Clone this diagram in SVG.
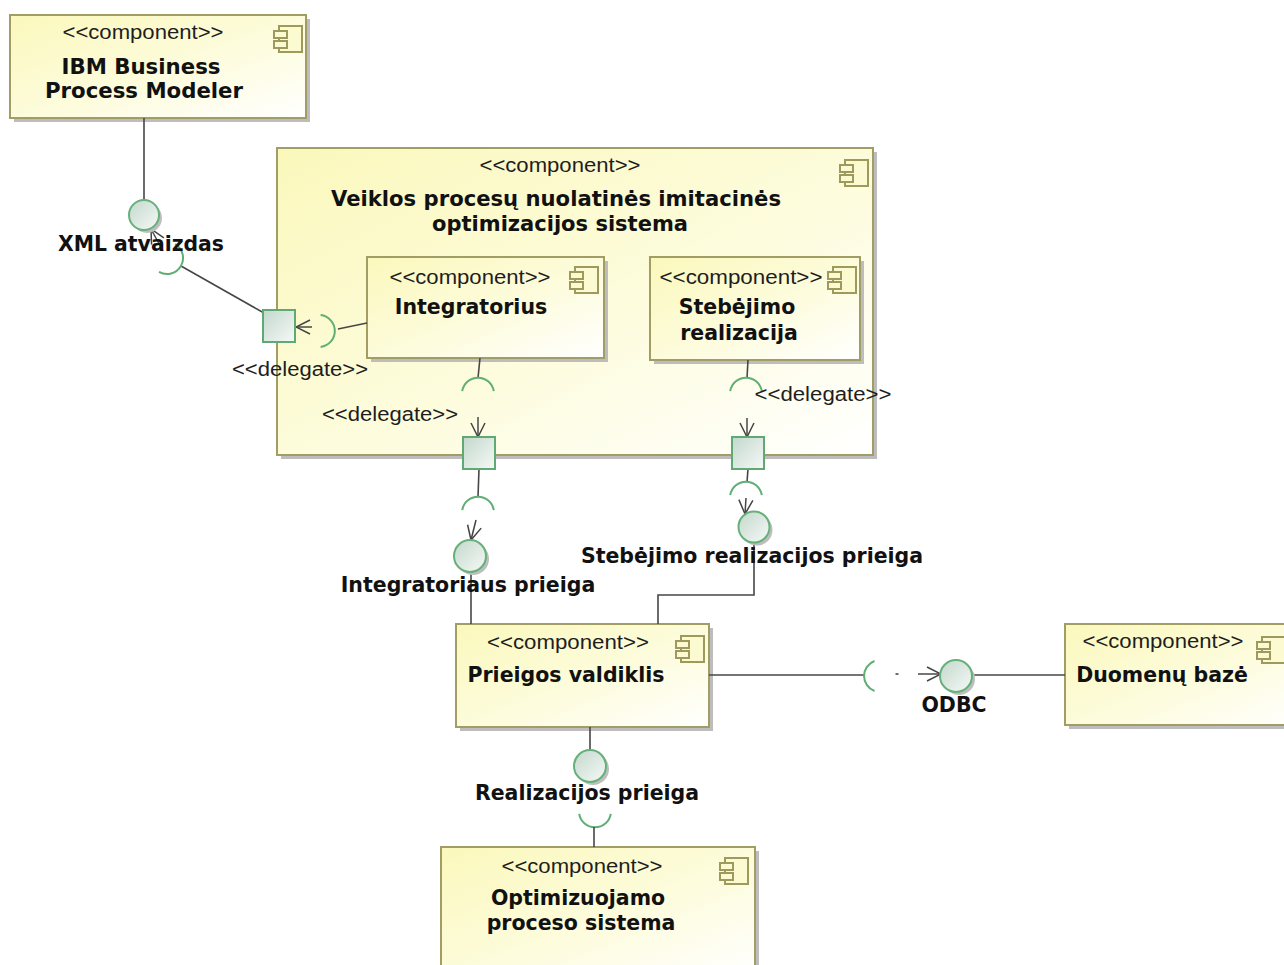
<svg xmlns="http://www.w3.org/2000/svg" width="1284" height="965" viewBox="0 0 1284 965">
  <defs>
    <linearGradient id="boxFill" x1="0" y1="0" x2="1" y2="1">
      <stop offset="0" stop-color="#FBF8BC"/>
      <stop offset="0.55" stop-color="#FDFCDD"/>
      <stop offset="1" stop-color="#FFFFFF"/>
    </linearGradient>
    <linearGradient id="portFill" x1="0" y1="0" x2="1" y2="1">
      <stop offset="0" stop-color="#C3D8CC"/>
      <stop offset="1" stop-color="#F6F9F7"/>
    </linearGradient>
    <symbol id="compIcon" overflow="visible">
      <rect x="5" y="0" width="23" height="26" fill="#FCFAD0" stroke="#9E9A5E" stroke-width="2"/>
      <rect x="0" y="5" width="13" height="7" fill="#FCFAD0" stroke="#9E9A5E" stroke-width="2"/>
      <rect x="0" y="15" width="13" height="7" fill="#FCFAD0" stroke="#9E9A5E" stroke-width="2"/>
    </symbol>
    <marker id="openArrow" viewBox="0 0 16 16" refX="15" refY="8" markerWidth="16" markerHeight="16" markerUnits="userSpaceOnUse" orient="auto">
      <path d="M1,1 L15,8 L1,15" fill="none" stroke="#444" stroke-width="1.5"/>
    </marker>
  </defs>
  <style>
    .box { fill: url(#boxFill); stroke: #A19D64; stroke-width: 2; }
    .shadow { fill: #BDBDBD; }
    .port { fill: url(#portFill); stroke: #5FAA72; stroke-width: 2; }
    .ball { fill: url(#portFill); stroke: #66B07A; stroke-width: 2; }
    .ballShadow { fill: #BEBEBE; }
    .socket { fill: none; stroke: #5FAE74; stroke-width: 2; }
    .wire { fill: none; stroke: #474747; stroke-width: 1.6; }
    .arrow { fill: none; stroke: #474747; stroke-width: 1.5; marker-end: url(#openArrow); }
    .stereo { font-family: "Liberation Sans", Arial, sans-serif; font-size: 19.5px; fill: #1E1E1E; text-anchor: middle; }
    .name { font-family: "DejaVu Sans", "Liberation Sans", sans-serif; font-size: 20.5px; font-weight: bold; fill: #111; text-anchor: middle; }
  </style>

  <rect width="1284" height="965" fill="#FFFFFF"/>

  <!-- outer system component with nested parts -->
  <g id="veiklos-sistema">
    <rect class="shadow" x="281" y="152" width="596" height="307"/>
    <rect class="box" x="277" y="148" width="596" height="307"/>
    <use href="#compIcon" x="840" y="160"/>
    <text class="stereo" x="560" y="172" textLength="161" lengthAdjust="spacingAndGlyphs">&lt;&lt;component&gt;&gt;</text>
    <text class="name" x="556" y="206" textLength="450" lengthAdjust="spacingAndGlyphs">Veiklos procesų nuolatinės imitacinės</text>
    <text class="name" x="560" y="231" textLength="256" lengthAdjust="spacingAndGlyphs">optimizacijos sistema</text>
  </g>

  <g id="integratorius">
    <rect class="shadow" x="371" y="261" width="237" height="101"/>
    <rect class="box" x="367" y="257" width="237" height="101"/>
    <use href="#compIcon" x="570" y="267"/>
    <text class="stereo" x="470" y="284" textLength="161" lengthAdjust="spacingAndGlyphs">&lt;&lt;component&gt;&gt;</text>
    <text class="name" x="471" y="314">Integratorius</text>
  </g>

  <g id="stebejimo-realizacija">
    <rect class="shadow" x="654" y="261" width="210" height="103"/>
    <rect class="box" x="650" y="257" width="210" height="103"/>
    <use href="#compIcon" x="828" y="267"/>
    <text class="stereo" x="741" y="284" textLength="163" lengthAdjust="spacingAndGlyphs">&lt;&lt;component&gt;&gt;</text>
    <text class="name" x="737" y="314">Stebėjimo</text>
    <text class="name" x="739" y="340">realizacija</text>
  </g>

  <g id="ibm-modeler">
    <rect class="shadow" x="14" y="19" width="296" height="103"/>
    <rect class="box" x="10" y="15" width="296" height="103"/>
    <use href="#compIcon" x="274" y="26"/>
    <text class="stereo" x="143" y="39" textLength="161" lengthAdjust="spacingAndGlyphs">&lt;&lt;component&gt;&gt;</text>
    <text class="name" x="141" y="74" textLength="159" lengthAdjust="spacingAndGlyphs">IBM Business</text>
    <text class="name" x="144" y="98" textLength="198" lengthAdjust="spacingAndGlyphs">Process Modeler</text>
  </g>

  <g id="prieigos-valdiklis">
    <rect class="shadow" x="460" y="628" width="253" height="103"/>
    <rect class="box" x="456" y="624" width="253" height="103"/>
    <use href="#compIcon" x="676" y="636"/>
    <text class="stereo" x="568" y="649" textLength="162" lengthAdjust="spacingAndGlyphs">&lt;&lt;component&gt;&gt;</text>
    <text class="name" x="566" y="682">Prieigos valdiklis</text>
  </g>

  <g id="duomenu-baze">
    <rect class="shadow" x="1069" y="628" width="240" height="101"/>
    <rect class="box" x="1065" y="624" width="240" height="101"/>
    <use href="#compIcon" x="1257" y="637"/>
    <text class="stereo" x="1163" y="648" textLength="161" lengthAdjust="spacingAndGlyphs">&lt;&lt;component&gt;&gt;</text>
    <text class="name" x="1162" y="682">Duomenų bazė</text>
  </g>

  <g id="optimizuojamo-sistema">
    <rect class="shadow" x="445" y="851" width="314" height="130"/>
    <rect class="box" x="441" y="847" width="314" height="130"/>
    <use href="#compIcon" x="720" y="858"/>
    <text class="stereo" x="582" y="873" textLength="161" lengthAdjust="spacingAndGlyphs">&lt;&lt;component&gt;&gt;</text>
    <text class="name" x="578" y="905">Optimizuojamo</text>
    <text class="name" x="581" y="930">proceso sistema</text>
  </g>

  <!-- connectors, sockets and delegation arrows -->
  <g id="connectors">
    <!-- IBM Business Process Modeler provides XML atvaizdas -->
    <line class="wire" x1="144" y1="118" x2="144" y2="200"/>
    <!-- left port to XML socket -->
    <line class="wire" x1="264" y1="313" x2="181" y2="266"/>
    <path class="socket" d="M175,244.1 A16,16 0 0 1 159,271.9"/>
    <line class="arrow" x1="163" y1="251" x2="151" y2="229"/>
    <!-- Integratorius required interface delegated to left port -->
    <line class="wire" x1="367" y1="323" x2="338" y2="329"/>
    <path class="socket" d="M320.6,315.1 A16,16 0 0 1 320.6,346.9"/>
    <line class="arrow" x1="312" y1="327" x2="296" y2="327"/>
    <!-- Integratorius down to bottom port -->
    <line class="wire" x1="480" y1="358" x2="478" y2="378"/>
    <path class="socket" d="M462.2,391.2 A16,16 0 0 1 493.8,391.2"/>
    <line class="arrow" x1="478" y1="417" x2="478" y2="437"/>
    <!-- bottom port to Integratoriaus prieiga -->
    <line class="wire" x1="479" y1="469" x2="478" y2="497"/>
    <path class="socket" d="M462.2,510.2 A16,16 0 0 1 493.8,510.2"/>
    <line class="arrow" x1="476" y1="520" x2="471" y2="540"/>
    <line class="wire" x1="471" y1="572" x2="471" y2="624"/>
    <!-- Stebėjimo realizacija down to right port -->
    <line class="wire" x1="748" y1="360" x2="747" y2="378"/>
    <path class="socket" d="M730.2,391.2 A16,16 0 0 1 761.8,391.2"/>
    <line class="arrow" x1="747" y1="418" x2="747" y2="437"/>
    <!-- right port to Stebėjimo realizacijos prieiga -->
    <line class="wire" x1="748" y1="469" x2="747" y2="482"/>
    <path class="socket" d="M730.2,495.2 A16,16 0 0 1 761.8,495.2"/>
    <line class="arrow" x1="746" y1="498" x2="745" y2="514"/>
    <polyline class="wire" points="754,543 754,595 658,595 658,624"/>
    <!-- Prieigos valdiklis provides Realizacijos prieiga -->
    <line class="wire" x1="590" y1="727" x2="590" y2="750"/>
    <path class="socket" d="M610.8,813.8 A16,16 0 0 1 579.2,813.8"/>
    <line class="wire" x1="594" y1="827" x2="594" y2="847"/>
    <!-- ODBC -->
    <line class="wire" x1="709" y1="675" x2="864" y2="675"/>
    <path class="socket" d="M874.5,661 A16,16 0 0 0 874.5,691"/>
    <line class="wire" x1="895.5" y1="674" x2="898.5" y2="674"/>
    <line class="arrow" x1="918" y1="674" x2="941" y2="674"/>
    <line class="wire" x1="972" y1="675" x2="1065" y2="675"/>
  </g>

  <!-- delegation ports -->
  <g id="port-left">
    <rect class="port" x="263" y="310" width="32" height="32"/>
  </g>
  <g id="port-integratorius">
    <rect class="port" x="463" y="437" width="32" height="32"/>
  </g>
  <g id="port-stebejimo">
    <rect class="port" x="732" y="437" width="32" height="32"/>
  </g>

  <!-- provided interfaces -->
  <g id="iface-xml">
    <circle class="ballShadow" cx="147" cy="218" r="15"/>
    <circle class="ball" cx="144" cy="215" r="15"/>
    <text class="name" x="141" y="251" textLength="166" lengthAdjust="spacingAndGlyphs">XML atvaizdas</text>
  </g>
  <g id="iface-integratoriaus">
    <circle class="ballShadow" cx="473" cy="559" r="16"/>
    <circle class="ball" cx="470" cy="556" r="16"/>
    <text class="name" x="468" y="592">Integratoriaus prieiga</text>
  </g>
  <g id="iface-stebejimo">
    <circle class="ballShadow" cx="757" cy="530" r="15.5"/>
    <circle class="ball" cx="754" cy="527" r="15.5"/>
    <text class="name" x="752" y="563">Stebėjimo realizacijos prieiga</text>
  </g>
  <g id="iface-realizacijos">
    <circle class="ballShadow" cx="593" cy="769" r="16"/>
    <circle class="ball" cx="590" cy="766" r="16"/>
    <text class="name" x="587" y="800">Realizacijos prieiga</text>
  </g>
  <g id="iface-odbc">
    <circle class="ballShadow" cx="959" cy="679" r="16"/>
    <circle class="ball" cx="956" cy="676" r="16"/>
    <text class="name" x="954" y="712">ODBC</text>
  </g>

  <!-- delegate labels -->
  <g id="delegate-labels">
    <text class="stereo" x="300" y="376" textLength="136" lengthAdjust="spacingAndGlyphs">&lt;&lt;delegate&gt;&gt;</text>
    <text class="stereo" x="390" y="421" textLength="136" lengthAdjust="spacingAndGlyphs">&lt;&lt;delegate&gt;&gt;</text>
    <text class="stereo" x="823" y="401" textLength="137" lengthAdjust="spacingAndGlyphs">&lt;&lt;delegate&gt;&gt;</text>
  </g>
</svg>
